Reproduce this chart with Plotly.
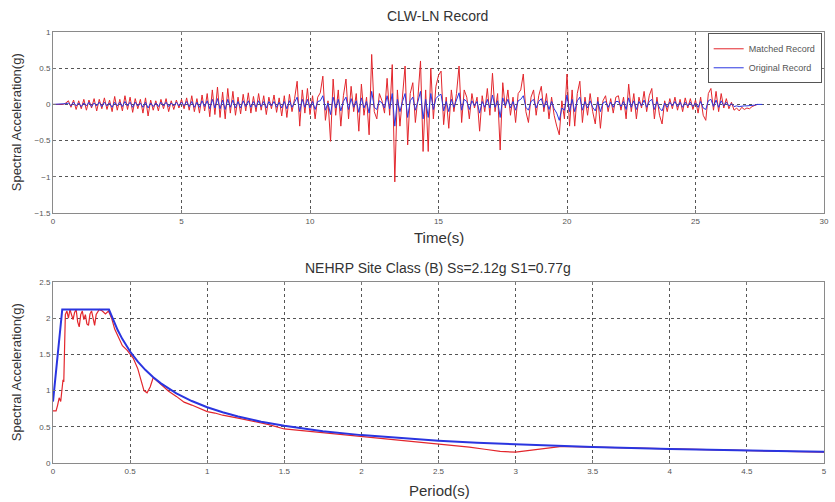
import plotly.graph_objects as go

# ---- Acceleration time history (sampled every 0.1 s) ----
dt_rec = 0.1
acc_matched = [
    0, 0, 0, 0, 0, 0.02, 0.05, -0.04, 0.06, -0.07,
    0.05, -0.06, 0.07, -0.08, 0.06, -0.05, 0.08, -0.09, 0.07, -0.06,
    0.09, -0.07, 0.06, -0.10, 0.11, -0.08, 0.07, -0.09, 0.12, -0.07,
    0.10, -0.11, 0.08, -0.06, 0.07, -0.12, 0.09, -0.16, 0.06, -0.08,
    0.05, -0.09, 0.07, -0.06, 0.08, -0.10, 0.05, -0.07, 0.06, -0.05,
    0.07, -0.06, 0.09, -0.08, 0.12, -0.10, 0.08, -0.12, 0.13, -0.09,
    0.15, -0.17, 0.20, -0.14, 0.24, -0.18, 0.17, -0.20, 0.22, -0.12,
    0.18, -0.15, 0.10, -0.13, 0.14, -0.09, 0.16, -0.12, 0.11, -0.10,
    0.15, -0.08, 0.12, -0.14, 0.10, -0.06, 0.13, -0.11, 0.09, -0.16,
    0.12, -0.18, 0.14, -0.10, 0.08, 0.32, -0.30, 0.20, -0.12, 0.22,
    -0.14, 0.12, -0.20, 0.10, 0.16, 0.39, -0.22, 0.05, -0.51, 0.35,
    -0.15, 0.20, -0.30, 0.12, 0.35, -0.20, 0.25, -0.10, 0.15, -0.37,
    0.28, -0.15, 0.10, -0.42, 0.69, -0.10, -0.20, 0.15, 0.05, -0.12,
    0.36, -0.15, 0.55, -1.07, 0.20, -0.30, 0.10, 0.53, -0.56, 0.15,
    0.30, -0.25, 0.10, 0.60, -0.65, 0.20, -0.65, 0.50, -0.20, 0.25,
    0.40, 0.46, -0.28, 0.10, -0.33, 0.20, -0.10, 0.15, 0.53, -0.25,
    0.20, 0.10, -0.20, 0.15, -0.05, 0.10, -0.37, 0.12, -0.10, 0.22,
    -0.15, 0.43, -0.10, 0.15, -0.63, 0.30, -0.05, 0.20, -0.15, 0.10,
    -0.25, 0.15, 0.20, 0.42, -0.10, -0.25, 0.10, 0.20, -0.15, 0.12,
    0.25, -0.10, 0.15, -0.20, 0.10, -0.15, -0.30, -0.42, 0.05, -0.20,
    0.42, -0.30, 0.20, -0.30, 0.15, 0.32, -0.25, 0.10, -0.15, 0.15,
    -0.10, -0.27, 0.10, -0.33, 0.05, 0.12, -0.10, 0.08, -0.12, 0.10,
    0.12, -0.08, 0.10, -0.20, 0.28, -0.10, 0.15, -0.20, 0.10, -0.05,
    0.18, -0.10, 0.12, 0.22, -0.20, 0.10, -0.15, -0.27, 0.05, -0.10,
    0.08, -0.06, 0.10, -0.08, 0.07, -0.10, 0.09, -0.05, 0.08, -0.07,
    0.06, -0.12, 0.10, -0.15, -0.22, 0.15, 0.22, -0.08, 0.18, -0.10,
    0.15, -0.05, 0.08, -0.06, 0.03, -0.08, -0.05, -0.09, -0.04, -0.07,
    -0.05, -0.06, -0.03, -0.02, 0.0,
]
acc_original = [
    0, 0, 0, 0, 0, 0.01, 0.02, -0.02, 0.03, -0.02,
    0.02, -0.03, 0.02, -0.02, 0.03, -0.03, 0.02, -0.02, 0.03, -0.03,
    0.03, -0.02, 0.02, -0.04, 0.03, -0.02, 0.03, -0.03, 0.04, -0.02,
    0.03, -0.04, 0.03, -0.02, 0.02, -0.04, 0.03, -0.05, 0.02, -0.03,
    0.02, -0.03, 0.03, -0.02, 0.03, -0.03, 0.02, -0.02, 0.03, -0.02,
    0.03, -0.02, 0.04, -0.03, 0.04, -0.04, 0.03, -0.04, 0.05, -0.03,
    0.05, -0.06, 0.07, -0.05, 0.08, -0.06, 0.06, -0.07, 0.07, -0.04,
    0.06, -0.05, 0.04, -0.05, 0.05, -0.03, 0.05, -0.04, 0.04, -0.04,
    0.05, -0.03, 0.04, -0.05, 0.04, -0.02, 0.04, -0.04, 0.03, -0.05,
    0.04, -0.06, 0.05, -0.04, 0.03, 0.10, -0.10, 0.07, -0.04, 0.07,
    -0.05, 0.04, -0.07, 0.04, 0.05, 0.12, -0.08, 0.02, -0.14, 0.10,
    -0.05, 0.07, -0.09, 0.04, 0.10, -0.07, 0.08, -0.04, 0.05, -0.11,
    0.09, -0.05, 0.04, -0.12, 0.18, -0.04, -0.07, 0.05, 0.02, -0.05,
    0.12, -0.06, 0.15, -0.30, 0.07, -0.10, 0.04, 0.15, -0.18, 0.05,
    0.10, -0.08, 0.04, 0.18, -0.20, 0.07, -0.18, 0.15, -0.07, 0.08,
    0.12, 0.14, -0.09, 0.04, -0.10, 0.07, -0.04, 0.05, 0.16, -0.08,
    0.07, 0.04, -0.07, 0.05, -0.02, 0.04, -0.12, 0.04, -0.04, 0.07,
    -0.05, 0.13, -0.04, 0.05, -0.18, 0.09, -0.02, 0.07, -0.05, 0.04,
    -0.08, 0.05, 0.07, 0.12, -0.04, -0.08, 0.04, 0.07, -0.05, 0.04,
    0.08, -0.04, 0.05, -0.07, 0.04, -0.06, -0.12, -0.22, -0.05, -0.08,
    0.13, -0.10, 0.07, -0.10, 0.05, 0.10, -0.08, 0.04, -0.05, 0.05,
    -0.04, -0.09, 0.04, -0.10, 0.02, 0.04, -0.04, 0.03, -0.04, 0.04,
    0.04, -0.03, 0.04, -0.07, 0.09, -0.04, 0.05, -0.07, 0.04, -0.02,
    0.06, -0.04, 0.04, 0.07, -0.07, 0.04, -0.05, -0.09, 0.02, -0.04,
    0.03, -0.02, 0.04, -0.03, 0.03, -0.04, 0.03, -0.02, 0.03, -0.03,
    0.02, -0.04, 0.04, -0.05, -0.07, 0.05, 0.07, -0.03, 0.06, -0.04,
    0.05, -0.02, 0.03, -0.02, 0.01, -0.03, -0.02, -0.03, -0.02, -0.02,
    -0.02, -0.02, -0.01, -0.01, 0, 0, 0,
]

# ---- Response spectra ----
period_matched = [
    0, 0.02, 0.03, 0.04, 0.05, 0.06, 0.065, 0.07, 0.075, 0.08,
    0.09, 0.1, 0.11, 0.12, 0.13, 0.14, 0.15, 0.16, 0.17, 0.18,
    0.19, 0.2, 0.21, 0.22, 0.23, 0.24, 0.25, 0.26, 0.27, 0.28,
    0.29, 0.3, 0.32, 0.34, 0.36, 0.38, 0.4, 0.42, 0.45, 0.48,
    0.5, 0.52, 0.55, 0.57, 0.59, 0.61, 0.63, 0.65, 0.7, 0.75,
    0.8, 0.85, 0.9, 0.95, 1.0, 1.05, 1.1, 1.2, 1.3, 1.4,
    1.5, 1.6, 1.7, 1.8, 1.9, 2.0, 2.1, 2.2, 2.3, 2.4,
    2.5, 2.6, 2.7, 2.8, 2.9, 3.0, 3.1, 3.2, 3.3, 3.5,
    3.75, 4.0, 4.25, 4.5, 4.75, 5.0,
]
sa_matched = [
    0.72, 0.72, 0.8, 0.9, 0.85, 1.05, 1.15, 1.12, 1.6, 2.05,
    2.1, 2.0, 2.12, 2.05, 1.98, 2.08, 2.12, 1.95, 1.88, 2.05,
    2.1, 1.98, 2.05, 1.92, 1.9, 2.06, 2.1, 2.0, 1.9, 2.05,
    2.08, 2.12, 2.1, 2.06, 2.1, 2.0, 1.85, 1.75, 1.62, 1.56,
    1.5, 1.45, 1.3, 1.15, 1.0, 0.97, 1.05, 1.18, 1.08, 0.99,
    0.92, 0.84, 0.80, 0.76, 0.71, 0.69, 0.66, 0.62, 0.58, 0.53,
    0.47, 0.45, 0.42, 0.40, 0.38, 0.37, 0.35, 0.33, 0.31, 0.29,
    0.27, 0.25, 0.22, 0.19, 0.16, 0.15, 0.18, 0.21, 0.23, 0.22,
    0.21, 0.19, 0.18, 0.17, 0.16, 0.15,
]
period_target = [
    0, 0.06, 0.363, 0.38, 0.4, 0.42, 0.45, 0.5, 0.55, 0.6,
    0.65, 0.7, 0.8, 0.9, 1.0, 1.1, 1.2, 1.35, 1.5, 1.75,
    2.0, 2.25, 2.5, 2.75, 3.0, 3.5, 4.0, 4.5, 5.0,
]
sa_target = [
    0.848, 2.12, 2.12, 2.026, 1.925, 1.833, 1.711, 1.54, 1.4, 1.283,
    1.185, 1.1, 0.963, 0.856, 0.77, 0.7, 0.642, 0.57, 0.513, 0.44,
    0.385, 0.342, 0.308, 0.28, 0.257, 0.22, 0.193, 0.171, 0.154,
]

RED = "#e3262c"
BLUE = "#2a35e0"
FONT = "Liberation Sans, Arial, sans-serif"

fig = go.Figure()
fig.add_trace(go.Scatter(y=acc_matched, x0=0, dx=dt_rec, mode="lines",
                         line=dict(color=RED, width=1), name="Matched Record",
                         xaxis="x", yaxis="y"))
fig.add_trace(go.Scatter(y=acc_original, x0=0, dx=dt_rec, mode="lines",
                         line=dict(color=BLUE, width=1), name="Original Record",
                         xaxis="x", yaxis="y"))
fig.add_trace(go.Scatter(x=period_matched, y=sa_matched, mode="lines",
                         line=dict(color=RED, width=1.2), showlegend=False,
                         xaxis="x2", yaxis="y2"))
fig.add_trace(go.Scatter(x=period_target, y=sa_target, mode="lines",
                         line=dict(color=BLUE, width=2), showlegend=False,
                         xaxis="x2", yaxis="y2"))

axis_style = dict(
    showline=True, mirror="ticks", linecolor="#8a8a8a", linewidth=1,
    showgrid=True, gridcolor="#555555", griddash="dot", gridwidth=1,
    ticks="inside", ticklen=3, tickcolor="#777777",
    tickfont=dict(size=8, color="#555555", family=FONT),
    zeroline=False, fixedrange=True,
)

fig.update_layout(
    width=835, height=502,
    margin=dict(l=53, r=6, t=32, b=39),
    plot_bgcolor="white", paper_bgcolor="white",
    font=dict(family=FONT, color="#333333"),
    xaxis=dict(domain=[0, 1], anchor="y", range=[0, 30],
               tickvals=[0, 5, 10, 15, 20, 25, 30], **axis_style),
    yaxis=dict(domain=[0.58, 1], anchor="x", range=[-1.5, 1],
               tickvals=[-1.5, -1, -0.5, 0, 0.5, 1], **axis_style),
    xaxis2=dict(domain=[0, 1], anchor="y2", range=[0, 5],
                tickvals=[0, 0.5, 1, 1.5, 2, 2.5, 3, 3.5, 4, 4.5, 5], **axis_style),
    yaxis2=dict(domain=[0, 0.42], anchor="x2", range=[0, 2.5],
                tickvals=[0, 0.5, 1, 1.5, 2, 2.5], **axis_style),
    legend=dict(x=0.997, y=0.997, xanchor="right", yanchor="top",
                bgcolor="white", bordercolor="#555555", borderwidth=1,
                font=dict(size=9, color="#555555", family=FONT),
                itemwidth=30, tracegroupgap=0),
    showlegend=True,
)

texts = [
    dict(text="CLW-LN Record", x=0.499, y=1.037, size=14),
    dict(text="NEHRP Site Class (B) Ss=2.12g S1=0.77g", x=0.499, y=0.452, size=14),
    dict(text="Time(s)", x=0.501, y=0.524, size=15),
    dict(text="Period(s)", x=0.501, y=-0.063, size=15),
]
for t in texts:
    fig.add_annotation(text=t["text"], x=t["x"], y=t["y"], xref="paper", yref="paper",
                       showarrow=False, xanchor="center", yanchor="middle",
                       font=dict(size=t["size"], color="#333333", family=FONT))

for yc in (0.79, 0.21):
    fig.add_annotation(text="Spectral Acceleration(g)", x=-0.047, y=yc,
                       xref="paper", yref="paper", showarrow=False, textangle=-90,
                       xanchor="center", yanchor="middle",
                       font=dict(size=13, color="#333333", family=FONT))

fig.write_html("out.html")
